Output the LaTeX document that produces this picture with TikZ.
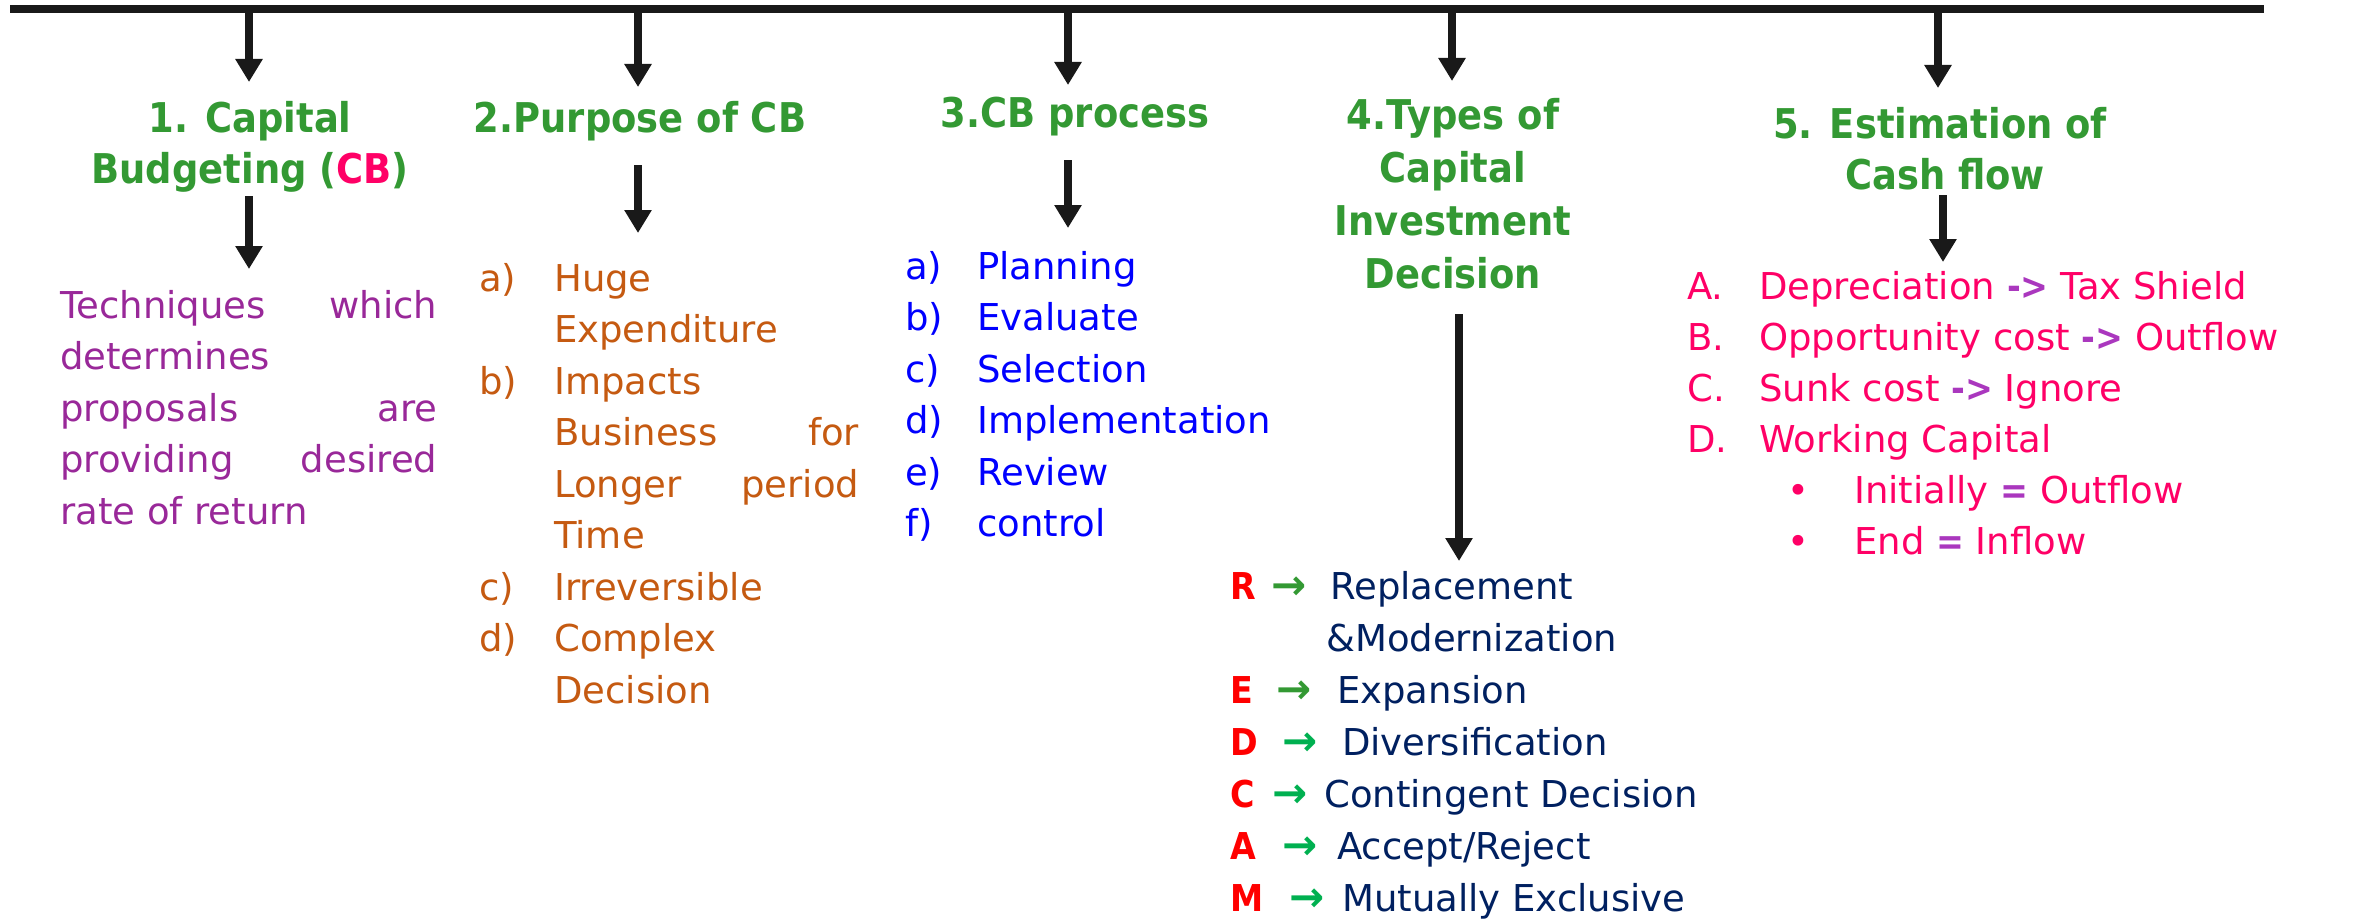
\documentclass[tikz,border=0pt]{standalone}
\usepackage{fontspec}
\setmainfont{DejaVu Sans}
\newfontfamily\headfont{DejaVu Sans}[FakeStretch=0.9]
\usetikzlibrary{arrows.meta}

\definecolor{titlegreen}{RGB}{51,153,51}
\definecolor{cbpink}{RGB}{255,0,102}
\definecolor{defpurple}{RGB}{153,40,153}
\definecolor{purposeorange}{RGB}{197,90,17}
\definecolor{stepblue}{RGB}{0,0,255}
\definecolor{typenavy}{RGB}{0,32,96}
\definecolor{letterred}{RGB}{255,0,0}
\definecolor{arrowgreenA}{RGB}{51,153,51}
\definecolor{arrowgreenB}{RGB}{0,176,80}
\definecolor{flowpink}{RGB}{255,0,102}
\definecolor{opviolet}{RGB}{170,55,190}

% stacked lines: first baseline is the box baseline
\newcommand\centerlines[1]{\vtop{\halign{\hfil##\hfil\cr#1\crcr}}}
\newcommand\leftlines[1]{\vtop{\halign{##\hfil\cr#1\crcr}}}
\newcommand\labellines[2]{\vtop{\halign{\hbox to #1{##\hfil}&##\hfil\cr#2\crcr}}}
\newcommand\op[1]{\textcolor{opviolet}{\headfont\bfseries#1}}
% one row of the R-E-D-C-A-M list: letter, arrow colour, arrow offset, text offset, text
\newcommand\typerow[5]{\rlap{\headfont\bfseries\textcolor{letterred}{#1}}\hspace*{#3}\rlap{\textcolor{#2}{\bfseries\fontsize{42}{42}\selectfont →}}\hspace*{\dimexpr#4-#3\relax}#5}

\begin{document}
\begin{tikzpicture}[x=1pt,y=-1pt,
  bus/.style={line width=8pt,black!90},
  arr/.style={line width=8pt,black!90,-{Triangle[width=26pt,length=23pt]}},
  title/.style={inner sep=0pt,text=titlegreen,font=\headfont\bfseries\fontsize{41}{51}\selectfont},
  body/.style={inner sep=0pt,anchor=base west,font=\fontsize{37}{51.5}\selectfont}]
\useasboundingbox (0,0) rectangle (2366,923);

% main bus line
\coordinate (busL) at (10,9);
\coordinate (busR) at (2264,9);
\draw[bus] (busL) -- (busR);

% headings
\node[title,anchor=base] (h1) at (250,133)
  {\centerlines{1. Capital\cr Budgeting (\textcolor{cbpink}{CB})}};
\node[title,anchor=base] (h2) at (640,133) {2.Purpose of CB};
\node[title,anchor=base] (h3) at (1075,128) {3.CB process};
\node[title,anchor=base,font=\headfont\bfseries\fontsize{41}{53}\selectfont] (h4) at (1453,130)
  {\centerlines{4.Types of\cr Capital\cr Investment\cr Decision}};
\node[title,anchor=base] (h5) at (1940,139)
  {\centerlines{5. Estimation of\cr \hspace*{10pt}Cash flow}};

% arrows from the bus to the headings
\foreach \i/\x/\y in {1/249/82, 2/638/87, 3/1068/85, 4/1452/81, 5/1938/88}{
  \coordinate (s\i) at (\x,9);
  \coordinate (e\i) at (\x,\y);
  \draw[arr] (s\i) -- (e\i);
}

% arrows from the headings to the detail texts
\coordinate (d1a) at (249,196);  \coordinate (d1b) at (249,269);
\coordinate (d2a) at (638,165);  \coordinate (d2b) at (638,233);
\coordinate (d3a) at (1068,160); \coordinate (d3b) at (1068,228);
\coordinate (d4a) at (1459,314); \coordinate (d4b) at (1459,561);
\coordinate (d5a) at (1943,195); \coordinate (d5b) at (1943,262);
\foreach \i in {1,...,5}{\draw[arr] (d\i a) -- (d\i b);}

% 1. definition
\node[body,text=defpurple] (t1) at (60,318)
  {\leftlines{\hbox to 377pt{Techniques\hfil which}\cr
   determines\cr
   \hbox to 377pt{proposals\hfil are}\cr
   \hbox to 377pt{providing\hfil desired}\cr
   rate of return}};

% 2. purposes
\node[body,text=purposeorange] (t2) at (479,291)
  {\labellines{75pt}{a)&Huge\cr
   &Expenditure\cr
   b)&Impacts\cr
   &\hbox to 305pt{Business\hfil for}\cr
   &\hbox to 305pt{Longer\hfil period}\cr
   &Time\cr
   c)&Irreversible\cr
   d)&Complex\cr
   &Decision}};

% 3. process steps
\node[body,text=stepblue] (t3) at (905,279)
  {\labellines{72pt}{a)&Planning\cr
   b)&Evaluate\cr
   c)&Selection\cr
   d)&Implementation\cr
   e)&Review\cr
   f)&control}};

% 4. investment decision types
\node[body,text=typenavy,font=\fontsize{37}{52}\selectfont] (t4) at (1230,599)
  {\leftlines{\typerow{R}{arrowgreenA}{41pt}{100pt}{Replacement}\cr
   \hspace*{96pt}\&Modernization\cr
   \typerow{E}{arrowgreenA}{46pt}{107pt}{Expansion}\cr
   \typerow{D}{arrowgreenB}{52pt}{112pt}{Diversification}\cr
   \typerow{C}{arrowgreenB}{42pt}{94pt}{Contingent Decision}\cr
   \typerow{A}{arrowgreenB}{52pt}{107pt}{Accept/Reject}\cr
   \typerow{M}{arrowgreenB}{59pt}{112pt}{Mutually Exclusive}}};

% 5. cash flow estimation
\node[body,text=flowpink,font=\fontsize{37}{51}\selectfont] (t5) at (1687,299)
  {\labellines{72pt}{A.&Depreciation \op{->} Tax Shield\cr
   B.&Opportunity cost \op{->} Outflow\cr
   C.&Sunk cost \op{->} Ignore\cr
   D.&Working Capital\cr
   &\hspace*{28pt}\rlap{•}\hspace*{67pt}Initially \op{=} Outflow\cr
   &\hspace*{28pt}\rlap{•}\hspace*{67pt}End \op{=} Inflow}};
\end{tikzpicture}
\end{document}
